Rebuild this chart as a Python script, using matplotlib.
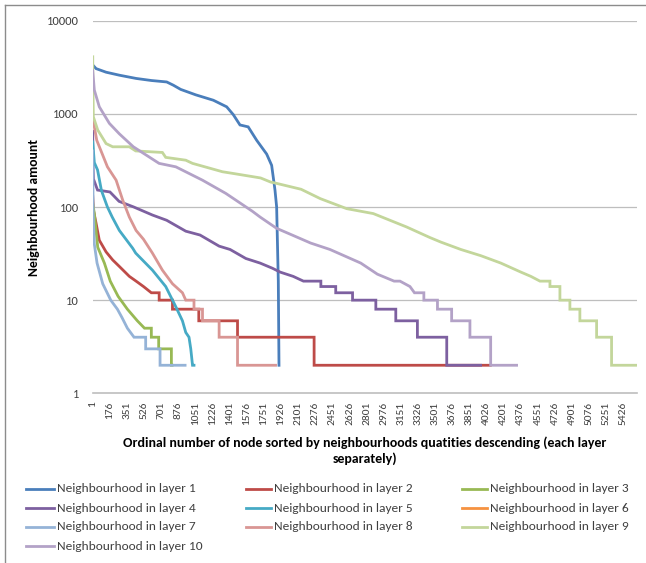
import matplotlib
matplotlib.use("Agg")
import matplotlib.pyplot as plt
from matplotlib import font_manager
from matplotlib.lines import Line2D

# ---------------- data ----------------
layer_names = ["Neighbourhood in layer %d" % i for i in range(1, 11)]

x_l1 = [1, 35, 137, 273, 444, 600, 757, 825, 900, 1054, 1234, 1370, 1438, 1506, 1590, 1677, 1779, 1830, 1864, 1881, 1898, 1905]
y_l1 = [3350, 3060, 2800, 2600, 2400, 2280, 2200, 2030, 1830, 1600, 1400, 1190, 980, 760, 725, 520, 370, 280, 152, 100, 16, 2]

x_l2 = [1, 10, 35, 68, 137, 205, 273, 375, 444, 520, 600, 680, 680, 816, 816, 1085, 1085, 1481, 1481, 2264, 2264, 4066]
y_l2 = [130, 90, 67, 44, 33, 27, 23, 18, 16, 14, 12, 12, 10, 10, 8, 8, 6, 6, 4, 4, 2, 2]

x_l3 = [1, 17, 52, 120, 180, 260, 355, 457, 530, 600, 600, 675, 675, 805, 805, 812]
y_l3 = [110, 85, 37, 25, 16, 11, 8, 6, 5, 5, 4, 4, 3, 3, 2, 2]

x_l4 = [1, 3, 8, 50, 177, 270, 420, 611, 757, 952, 1098, 1293, 1405, 1566, 1712, 1838, 1917, 2050, 2155,
        2333, 2333, 2485, 2485, 2657, 2657, 2895, 2895, 3099, 3099, 3320, 3320, 3620, 3620, 3966]
y_l4 = [650, 300, 200, 152, 145, 115, 100, 82, 72, 55, 50, 38, 35, 28, 25, 22, 20, 18, 16,
        16, 14, 14, 12, 12, 10, 10, 8, 8, 6, 6, 4, 4, 2, 2]

x_l5 = [1, 17, 50, 90, 151, 200, 273, 410, 440, 611, 747, 850, 918, 952, 985, 1003, 1021, 1036]
y_l5 = [500, 300, 250, 150, 100, 78, 56, 36, 32, 21, 14, 8.5, 6, 4.5, 4, 3, 2, 2]

x_l6 = []
y_l6 = []

x_l7 = [1, 5, 17, 45, 103, 185, 253, 300, 355, 423, 542, 542, 689, 689, 945]
y_l7 = [400, 85, 40, 25, 15, 10, 8, 6.5, 5, 4, 4, 3, 3, 2, 2]

x_l8 = [1, 42, 151, 240, 308, 375, 444, 520, 611, 713, 816, 918, 952, 1036, 1036, 1123, 1123, 1293, 1293, 1481, 1481, 1870]
y_l8 = [900, 520, 270, 194, 118, 78, 56, 45, 32, 21, 15, 12, 10, 10, 8, 8, 6, 6, 4, 4, 2, 2]

x_l9 = [1, 2, 7, 52, 137, 205, 375, 440, 713, 747, 952, 1021, 1327, 1438, 1717, 1821, 1855, 2131, 2327, 2597,
        2869, 3210, 3448, 3560, 3764, 3969, 4173, 4378, 4480, 4573, 4675, 4675, 4777, 4777, 4879, 4879,
        4981, 4981, 5152, 5152, 5305, 5305, 5565]
y_l9 = [4100, 2500, 930, 670, 480, 443, 443, 400, 385, 341, 318, 294, 239, 229, 205, 185, 182, 155, 123, 96,
        85, 61, 47, 42, 35, 30, 25, 20, 18, 16, 16, 14, 14, 10, 10, 8,
        8, 6, 6, 4, 4, 2, 2]

x_l10 = [1, 17, 68, 171, 273, 416, 679, 850, 1123, 1361, 1633, 1712, 1881, 2059, 2229, 2426, 2741, 2911, 3082,
         3142, 3244, 3290, 3386, 3386, 3525, 3525, 3670, 3670, 3857, 3857, 4069, 4069, 4334]
y_l10 = [2900, 1800, 1190, 790, 610, 443, 294, 270, 194, 140, 90, 78, 59, 49, 41, 35, 25, 19, 16,
         16, 14, 12, 12, 10, 10, 8, 8, 6, 6, 4, 4, 2, 2]

series_x = [x_l1, x_l2, x_l3, x_l4, x_l5, x_l6, x_l7, x_l8, x_l9, x_l10]
series_y = [y_l1, y_l2, y_l3, y_l4, y_l5, y_l6, y_l7, y_l8, y_l9, y_l10]

colors = ["#4A7EBB", "#BE4B48", "#98B954", "#7D60A0", "#46AAC5", "#F69240",
          "#95B3D7", "#D99694", "#C3D69B", "#B3A2C7"]

n_categories = 5565
x_tick_values = list(range(1, 5427, 175))
y_tick_values = [1, 10, 100, 1000, 10000]

x_title = "Ordinal number of node sorted by neighbourhoods quatities descending (each layer\nseparately)"
y_title = "Neighbourhood amount"

# ---------------- fonts ----------------
avail = {f.name for f in font_manager.fontManager.ttflist}
family = "Carlito" if "Carlito" in avail else "Lato"
plt.rcParams["font.family"] = [family, "DejaVu Sans"]
text_color = "#404040"

W, H = 646, 563
fig = plt.figure(figsize=(W / 100, H / 100), dpi=100)

left, right, top, bottom = 92.7, 637, 20.7, 393.3
ax = fig.add_axes([left / W, 1 - bottom / H, (right - left) / W, (bottom - top) / H])

for xs, ys, c in zip(series_x, series_y, colors):
    ax.plot(xs, ys, color=c, lw=2.0, solid_joinstyle="miter")

ax.set_yscale("log")
ax.set_ylim(1, 10000)
ax.set_xlim(0.5, n_categories)
ax.set_yticks(y_tick_values)
ax.set_yticklabels([str(v) for v in y_tick_values])
ax.minorticks_off()
ax.set_xticks(x_tick_values)
ax.set_xticklabels([str(v) for v in x_tick_values], rotation=90)
ax.tick_params(axis="y", length=0, pad=10, labelsize=9, labelcolor=text_color)
ax.tick_params(axis="x", length=0, pad=6, labelsize=8.2, labelcolor=text_color)
for v in y_tick_values[1:]:
    ax.axhline(v, color="#BEBEBE", lw=0.9, zorder=0)
for s in ["left", "right", "top"]:
    ax.spines[s].set_visible(False)
ax.spines["bottom"].set_color("#BEBEBE")
ax.spines["bottom"].set_linewidth(1.2)
ax.set_facecolor("none")

fig.text(365 / W, 1 - 451 / H, x_title, ha="center", va="center", fontsize=10,
         fontweight="bold", color="#000000", linespacing=1.3)
fig.text(34 / W, 1 - 208 / H, y_title, ha="center", va="center", rotation=90,
         fontsize=9.8, fontweight="bold", color="#000000")

# legend (row-wise like the reference)
col_line_x = [(26, 54), (246, 271), (462, 487)]
row_y = [489, 508, 527, 546]
for i, (name, c) in enumerate(zip(layer_names, colors)):
    r, col = divmod(i, 3)
    x0, x1 = col_line_x[col]
    y = 1 - row_y[r] / H
    fig.add_artist(Line2D([x0 / W, x1 / W], [y, y], color=c, lw=2.0))
    fig.text((x1 + 3) / W, y, name, ha="left", va="center", fontsize=9.6, color=text_color)

# chart area border (top and left visible)
fig.add_artist(Line2D([5 / W, 1], [1 - 5 / H, 1 - 5 / H], color="#8C8C8C", lw=1.0))
fig.add_artist(Line2D([5 / W, 5 / W], [0, 1 - 5 / H], color="#8C8C8C", lw=1.0))

fig.savefig("out.png", dpi=100)
